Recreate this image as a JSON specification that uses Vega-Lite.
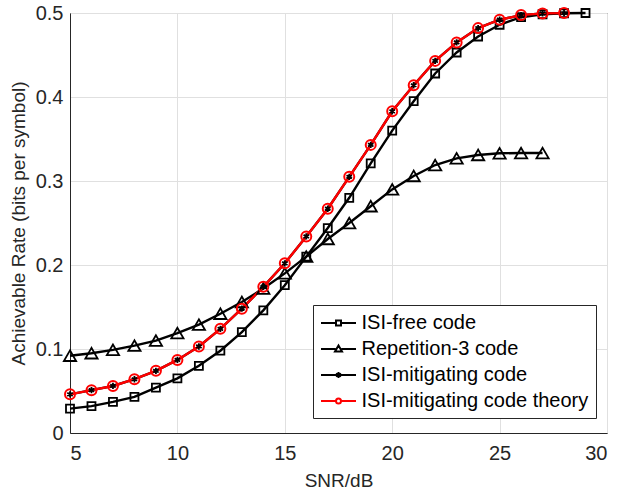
{
  "$schema": "https://vega.github.io/schema/vega-lite/v6.json",
  "width": 537,
  "height": 420,
  "autosize": "none",
  "padding": {"left": 70, "top": 13, "right": 11, "bottom": 64},
  "background": "white",
  "config": {
    "font": "Liberation Sans",
    "view": {"stroke": "#262626", "strokeWidth": 1},
    "axis": {
      "gridColor": "#e0e0e0", "gridWidth": 1, "domainColor": "#262626",
      "labelColor": "#262626", "titleColor": "#262626",
      "labelFontSize": 20, "titleFontSize": 19, "titleFontWeight": "normal",
      "labelFont": "Liberation Sans", "titleFont": "Liberation Sans", "ticks": false
    }
  },
  "data": {"values": [
    {"snr": 5, "rate": 0.029, "series": "ISI-free code"},
    {"snr": 6, "rate": 0.032, "series": "ISI-free code"},
    {"snr": 7, "rate": 0.037, "series": "ISI-free code"},
    {"snr": 8, "rate": 0.043, "series": "ISI-free code"},
    {"snr": 9, "rate": 0.054, "series": "ISI-free code"},
    {"snr": 10, "rate": 0.065, "series": "ISI-free code"},
    {"snr": 11, "rate": 0.080, "series": "ISI-free code"},
    {"snr": 12, "rate": 0.098, "series": "ISI-free code"},
    {"snr": 13, "rate": 0.120, "series": "ISI-free code"},
    {"snr": 14, "rate": 0.146, "series": "ISI-free code"},
    {"snr": 15, "rate": 0.176, "series": "ISI-free code"},
    {"snr": 16, "rate": 0.210, "series": "ISI-free code"},
    {"snr": 17, "rate": 0.244, "series": "ISI-free code"},
    {"snr": 18, "rate": 0.280, "series": "ISI-free code"},
    {"snr": 19, "rate": 0.321, "series": "ISI-free code"},
    {"snr": 20, "rate": 0.360, "series": "ISI-free code"},
    {"snr": 21, "rate": 0.395, "series": "ISI-free code"},
    {"snr": 22, "rate": 0.428, "series": "ISI-free code"},
    {"snr": 23, "rate": 0.453, "series": "ISI-free code"},
    {"snr": 24, "rate": 0.472, "series": "ISI-free code"},
    {"snr": 25, "rate": 0.486, "series": "ISI-free code"},
    {"snr": 26, "rate": 0.495, "series": "ISI-free code"},
    {"snr": 27, "rate": 0.4985, "series": "ISI-free code"},
    {"snr": 28, "rate": 0.4997, "series": "ISI-free code"},
    {"snr": 29, "rate": 0.5, "series": "ISI-free code"},
    {"snr": 5, "rate": 0.092, "series": "Repetition-3 code"},
    {"snr": 6, "rate": 0.095, "series": "Repetition-3 code"},
    {"snr": 7, "rate": 0.099, "series": "Repetition-3 code"},
    {"snr": 8, "rate": 0.104, "series": "Repetition-3 code"},
    {"snr": 9, "rate": 0.110, "series": "Repetition-3 code"},
    {"snr": 10, "rate": 0.119, "series": "Repetition-3 code"},
    {"snr": 11, "rate": 0.129, "series": "Repetition-3 code"},
    {"snr": 12, "rate": 0.142, "series": "Repetition-3 code"},
    {"snr": 13, "rate": 0.156, "series": "Repetition-3 code"},
    {"snr": 14, "rate": 0.172, "series": "Repetition-3 code"},
    {"snr": 15, "rate": 0.190, "series": "Repetition-3 code"},
    {"snr": 16, "rate": 0.210, "series": "Repetition-3 code"},
    {"snr": 17, "rate": 0.231, "series": "Repetition-3 code"},
    {"snr": 18, "rate": 0.250, "series": "Repetition-3 code"},
    {"snr": 19, "rate": 0.270, "series": "Repetition-3 code"},
    {"snr": 20, "rate": 0.290, "series": "Repetition-3 code"},
    {"snr": 21, "rate": 0.306, "series": "Repetition-3 code"},
    {"snr": 22, "rate": 0.319, "series": "Repetition-3 code"},
    {"snr": 23, "rate": 0.327, "series": "Repetition-3 code"},
    {"snr": 24, "rate": 0.331, "series": "Repetition-3 code"},
    {"snr": 25, "rate": 0.333, "series": "Repetition-3 code"},
    {"snr": 26, "rate": 0.3333, "series": "Repetition-3 code"},
    {"snr": 27, "rate": 0.3333, "series": "Repetition-3 code"},
    {"snr": 5, "rate": 0.046, "series": "ISI-mitigating code"},
    {"snr": 6, "rate": 0.051, "series": "ISI-mitigating code"},
    {"snr": 7, "rate": 0.056, "series": "ISI-mitigating code"},
    {"snr": 8, "rate": 0.064, "series": "ISI-mitigating code"},
    {"snr": 9, "rate": 0.074, "series": "ISI-mitigating code"},
    {"snr": 10, "rate": 0.087, "series": "ISI-mitigating code"},
    {"snr": 11, "rate": 0.103, "series": "ISI-mitigating code"},
    {"snr": 12, "rate": 0.124, "series": "ISI-mitigating code"},
    {"snr": 13, "rate": 0.148, "series": "ISI-mitigating code"},
    {"snr": 14, "rate": 0.174, "series": "ISI-mitigating code"},
    {"snr": 15, "rate": 0.202, "series": "ISI-mitigating code"},
    {"snr": 16, "rate": 0.234, "series": "ISI-mitigating code"},
    {"snr": 17, "rate": 0.267, "series": "ISI-mitigating code"},
    {"snr": 18, "rate": 0.305, "series": "ISI-mitigating code"},
    {"snr": 19, "rate": 0.343, "series": "ISI-mitigating code"},
    {"snr": 20, "rate": 0.383, "series": "ISI-mitigating code"},
    {"snr": 21, "rate": 0.414, "series": "ISI-mitigating code"},
    {"snr": 22, "rate": 0.443, "series": "ISI-mitigating code"},
    {"snr": 23, "rate": 0.465, "series": "ISI-mitigating code"},
    {"snr": 24, "rate": 0.482, "series": "ISI-mitigating code"},
    {"snr": 25, "rate": 0.492, "series": "ISI-mitigating code"},
    {"snr": 26, "rate": 0.4975, "series": "ISI-mitigating code"},
    {"snr": 27, "rate": 0.4995, "series": "ISI-mitigating code"},
    {"snr": 28, "rate": 0.4999, "series": "ISI-mitigating code"},
    {"snr": 5, "rate": 0.046, "series": "ISI-mitigating code theory"},
    {"snr": 6, "rate": 0.051, "series": "ISI-mitigating code theory"},
    {"snr": 7, "rate": 0.056, "series": "ISI-mitigating code theory"},
    {"snr": 8, "rate": 0.064, "series": "ISI-mitigating code theory"},
    {"snr": 9, "rate": 0.074, "series": "ISI-mitigating code theory"},
    {"snr": 10, "rate": 0.087, "series": "ISI-mitigating code theory"},
    {"snr": 11, "rate": 0.103, "series": "ISI-mitigating code theory"},
    {"snr": 12, "rate": 0.124, "series": "ISI-mitigating code theory"},
    {"snr": 13, "rate": 0.148, "series": "ISI-mitigating code theory"},
    {"snr": 14, "rate": 0.174, "series": "ISI-mitigating code theory"},
    {"snr": 15, "rate": 0.202, "series": "ISI-mitigating code theory"},
    {"snr": 16, "rate": 0.234, "series": "ISI-mitigating code theory"},
    {"snr": 17, "rate": 0.267, "series": "ISI-mitigating code theory"},
    {"snr": 18, "rate": 0.305, "series": "ISI-mitigating code theory"},
    {"snr": 19, "rate": 0.343, "series": "ISI-mitigating code theory"},
    {"snr": 20, "rate": 0.383, "series": "ISI-mitigating code theory"},
    {"snr": 21, "rate": 0.414, "series": "ISI-mitigating code theory"},
    {"snr": 22, "rate": 0.443, "series": "ISI-mitigating code theory"},
    {"snr": 23, "rate": 0.465, "series": "ISI-mitigating code theory"},
    {"snr": 24, "rate": 0.482, "series": "ISI-mitigating code theory"},
    {"snr": 25, "rate": 0.492, "series": "ISI-mitigating code theory"},
    {"snr": 26, "rate": 0.4975, "series": "ISI-mitigating code theory"},
    {"snr": 27, "rate": 0.4995, "series": "ISI-mitigating code theory"},
    {"snr": 28, "rate": 0.4999, "series": "ISI-mitigating code theory"}
  ]},
  "encoding": {
    "x": {"field": "snr", "type": "quantitative", "scale": {"domain": [5, 30], "nice": false},
          "axis": {"values": [5, 10, 15, 20, 25, 30], "format": "d", "title": "SNR/dB", "labelPadding": 10, "titlePadding": 8, "grid": true}},
    "y": {"field": "rate", "type": "quantitative", "scale": {"domain": [0, 0.5], "nice": false},
          "axis": {"values": [0, 0.1, 0.2, 0.3, 0.4, 0.5], "labelExpr": "datum.value == 0 ? '0' : format(datum.value, '.1f')", "title": "Achievable Rate (bits per symbol)", "labelPadding": 7, "titlePadding": 7, "grid": true}}
  },
  "layer": [
    {
      "mark": {"type": "line", "strokeWidth": 2.4, "clip": false},
      "encoding": {
        "color": {"field": "series", "type": "nominal",
          "scale": {"domain": ["ISI-free code", "Repetition-3 code", "ISI-mitigating code", "ISI-mitigating code theory"], "range": ["black", "black", "black", "#ff0000"]},
          "legend": {
            "orient": "none", "legendX": 243, "legendY": 292, "title": null,
            "strokeColor": "#262626", "fillColor": "white", "padding": 7,
            "labelFontSize": 20, "labelColor": "black", "labelFont": "Liberation Sans", "labelLimit": 400,
            "symbolSize": 400, "symbolStrokeWidth": 2, "rowPadding": 5, "labelOffset": 12, "symbolOffset": 7.5,
            "encode": {"symbols": {"update": {
              "fill": {"value": "transparent"},
              "shape": {"signal": "datum.value == 'ISI-free code' ? 'M-1.75,0H-0.25M0.25,0H1.75M-0.25,-0.25H0.25V0.25H-0.25Z' : datum.value == 'Repetition-3 code' ? 'M-1.75,0H-0.3M0.3,0H1.75M0,-0.35L0.35,0.25L-0.35,0.25Z' : datum.value == 'ISI-mitigating code' ? 'M-1.75,0H1.75M0,-0.3V0.3M-0.26,-0.15L0.26,0.15M-0.26,0.15L0.26,-0.15' : 'M-1.75,0H-0.25M0.25,0H1.75M-0.25,0A0.25,0.25 0 1,1 0.25,0A0.25,0.25 0 1,1 -0.25,0Z'"}
            }}}
          }
        }
      }
    },
    {
      "transform": [{"filter": "datum.series == 'ISI-free code'"}],
      "mark": {"type": "point", "shape": "square", "size": 64, "filled": false, "color": "black", "strokeWidth": 1.8, "clip": false, "opacity": 1},
      "encoding": {}
    },
    {
      "transform": [{"filter": "datum.series == 'Repetition-3 code'"}],
      "mark": {"type": "point", "shape": "triangle-up", "size": 150, "filled": false, "color": "black", "strokeWidth": 1.8, "clip": false, "opacity": 1},
      "encoding": {}
    },
    {
      "transform": [{"filter": "datum.series == 'ISI-mitigating code'"}],
      "mark": {"type": "point", "shape": "M0,-1V1M-0.87,-0.5L0.87,0.5M-0.87,0.5L0.87,-0.5", "size": 40, "filled": false, "color": "black", "strokeWidth": 1.8, "clip": false, "opacity": 1},
      "encoding": {}
    },
    {
      "transform": [{"filter": "datum.series == 'ISI-mitigating code theory'"}],
      "mark": {"type": "point", "shape": "circle", "size": 100, "filled": false, "color": "#ff0000", "strokeWidth": 2, "clip": false, "opacity": 1},
      "encoding": {}
    }
  ]
}
